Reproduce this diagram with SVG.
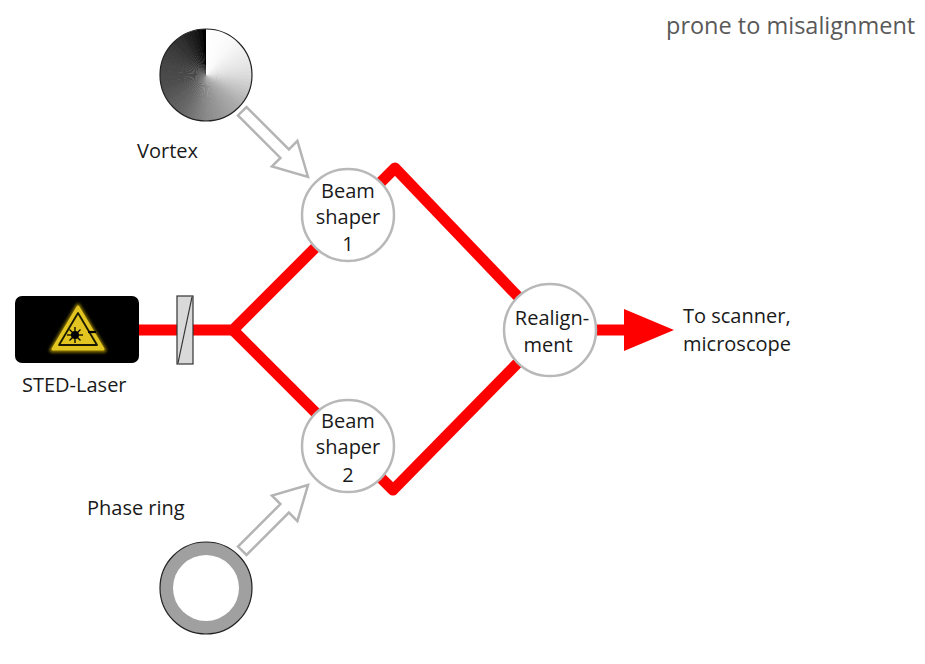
<svg xmlns="http://www.w3.org/2000/svg" width="925" height="664" viewBox="0 0 925 664">
  <style>
    .lbl { font-family: "Open Sans", "Noto Sans", sans-serif; font-size: 20px; fill: #1a1a1a; }
    .mid { text-anchor: middle; }
    .note { font-family: "Open Sans", "Noto Sans", sans-serif; font-size: 23.5px; fill: #595959; }
    .node { fill: #ffffff; stroke: #b8b8b8; stroke-width: 2.5; }
    .beam { fill: none; stroke: #ff0000; stroke-width: 11; stroke-linejoin: round; }
    .hollow { fill: #ffffff; stroke: #b4b4b4; stroke-width: 2.5; stroke-linejoin: miter; }
  </style>
  <defs>
    <polygon id="hollowArrow" points="0,0 -33,-18 -33,-6 -93,-6 -93,6 -33,6 -33,18"/>
    <!-- 6-degree sector, drawn every 5 degrees so neighbours overlap -->
    <path id="sector" d="M0,0 L0,-48 A48,48 0 0 1 5.02,-47.74 Z"/>
    <filter id="glow" x="-20%" y="-20%" width="140%" height="140%">
      <feGaussianBlur stdDeviation="1.5"/>
    </filter>
    <filter id="soften" filterUnits="userSpaceOnUse" x="-55" y="-55" width="110" height="110">
      <feGaussianBlur stdDeviation="0.6"/>
    </filter>
    <clipPath id="plateClip">
      <circle cx="206" cy="75" r="46"/>
    </clipPath>
  </defs>

  <!-- beam paths -->
  <g id="connectors">
    <path class="beam" d="M139,330 L233,330 L395,168 L550,330"/>
    <path class="beam" d="M233,330 L393,490 L550,330"/>
    <path class="beam" d="M550,330 L628,330"/>
    <polygon points="624,309 674,330 624,351" fill="#ff0000"/>
    <use href="#hollowArrow" class="hollow" transform="translate(308,177) rotate(45)"/>
    <use href="#hollowArrow" class="hollow" transform="translate(308,485) rotate(-45)"/>
  </g>

  <!-- vortex phase plate: grey ramp of sectors, clockwise from 12 o'clock -->
  <g id="vortex">
    <g clip-path="url(#plateClip)">
      <g filter="url(#soften)" transform="translate(206,75)">
        <use href="#sector" fill="#ffffff" transform="rotate(0)"/>
        <use href="#sector" fill="#fefefe" transform="rotate(5)"/>
        <use href="#sector" fill="#fdfdfd" transform="rotate(10)"/>
        <use href="#sector" fill="#fdfdfd" transform="rotate(15)"/>
        <use href="#sector" fill="#fcfcfc" transform="rotate(20)"/>
        <use href="#sector" fill="#fbfbfb" transform="rotate(25)"/>
        <use href="#sector" fill="#fafafa" transform="rotate(30)"/>
        <use href="#sector" fill="#f9f9f9" transform="rotate(35)"/>
        <use href="#sector" fill="#f7f7f7" transform="rotate(40)"/>
        <use href="#sector" fill="#f4f4f4" transform="rotate(45)"/>
        <use href="#sector" fill="#f2f2f2" transform="rotate(50)"/>
        <use href="#sector" fill="#efefef" transform="rotate(55)"/>
        <use href="#sector" fill="#ededed" transform="rotate(60)"/>
        <use href="#sector" fill="#eaeaea" transform="rotate(65)"/>
        <use href="#sector" fill="#e8e8e8" transform="rotate(70)"/>
        <use href="#sector" fill="#e5e5e5" transform="rotate(75)"/>
        <use href="#sector" fill="#e2e2e2" transform="rotate(80)"/>
        <use href="#sector" fill="#dedede" transform="rotate(85)"/>
        <use href="#sector" fill="#dadada" transform="rotate(90)"/>
        <use href="#sector" fill="#d4d4d4" transform="rotate(95)"/>
        <use href="#sector" fill="#cfcfcf" transform="rotate(100)"/>
        <use href="#sector" fill="#c9c9c9" transform="rotate(105)"/>
        <use href="#sector" fill="#c4c4c4" transform="rotate(110)"/>
        <use href="#sector" fill="#bebebe" transform="rotate(115)"/>
        <use href="#sector" fill="#b8b8b8" transform="rotate(120)"/>
        <use href="#sector" fill="#b3b3b3" transform="rotate(125)"/>
        <use href="#sector" fill="#adadad" transform="rotate(130)"/>
        <use href="#sector" fill="#a8a8a8" transform="rotate(135)"/>
        <use href="#sector" fill="#a5a5a5" transform="rotate(140)"/>
        <use href="#sector" fill="#a1a1a1" transform="rotate(145)"/>
        <use href="#sector" fill="#9e9e9e" transform="rotate(150)"/>
        <use href="#sector" fill="#9a9a9a" transform="rotate(155)"/>
        <use href="#sector" fill="#969696" transform="rotate(160)"/>
        <use href="#sector" fill="#939393" transform="rotate(165)"/>
        <use href="#sector" fill="#8f8f8f" transform="rotate(170)"/>
        <use href="#sector" fill="#8c8c8c" transform="rotate(175)"/>
        <use href="#sector" fill="#878787" transform="rotate(180)"/>
        <use href="#sector" fill="#828282" transform="rotate(185)"/>
        <use href="#sector" fill="#7d7d7d" transform="rotate(190)"/>
        <use href="#sector" fill="#777777" transform="rotate(195)"/>
        <use href="#sector" fill="#727272" transform="rotate(200)"/>
        <use href="#sector" fill="#6d6d6d" transform="rotate(205)"/>
        <use href="#sector" fill="#686868" transform="rotate(210)"/>
        <use href="#sector" fill="#656565" transform="rotate(215)"/>
        <use href="#sector" fill="#626262" transform="rotate(220)"/>
        <use href="#sector" fill="#5f5f5f" transform="rotate(225)"/>
        <use href="#sector" fill="#5c5c5c" transform="rotate(230)"/>
        <use href="#sector" fill="#595959" transform="rotate(235)"/>
        <use href="#sector" fill="#565656" transform="rotate(240)"/>
        <use href="#sector" fill="#535353" transform="rotate(245)"/>
        <use href="#sector" fill="#505050" transform="rotate(250)"/>
        <use href="#sector" fill="#4e4e4e" transform="rotate(255)"/>
        <use href="#sector" fill="#4c4c4c" transform="rotate(260)"/>
        <use href="#sector" fill="#4b4b4b" transform="rotate(265)"/>
        <use href="#sector" fill="#494949" transform="rotate(270)"/>
        <use href="#sector" fill="#474747" transform="rotate(275)"/>
        <use href="#sector" fill="#464646" transform="rotate(280)"/>
        <use href="#sector" fill="#444444" transform="rotate(285)"/>
        <use href="#sector" fill="#424242" transform="rotate(290)"/>
        <use href="#sector" fill="#404040" transform="rotate(295)"/>
        <use href="#sector" fill="#3e3e3e" transform="rotate(300)"/>
        <use href="#sector" fill="#3a3a3a" transform="rotate(305)"/>
        <use href="#sector" fill="#373737" transform="rotate(310)"/>
        <use href="#sector" fill="#333333" transform="rotate(315)"/>
        <use href="#sector" fill="#303030" transform="rotate(320)"/>
        <use href="#sector" fill="#2d2d2d" transform="rotate(325)"/>
        <use href="#sector" fill="#282828" transform="rotate(330)"/>
        <use href="#sector" fill="#222222" transform="rotate(335)"/>
        <use href="#sector" fill="#1c1c1c" transform="rotate(340)"/>
        <use href="#sector" fill="#161616" transform="rotate(345)"/>
        <use href="#sector" fill="#0e0e0e" transform="rotate(350)"/>
        <path d="M0,0 L-4.18,-47.82 A48,48 0 0 1 0,-48 Z" fill="#050505"/>
      </g>
    </g>
    <circle cx="206" cy="75" r="46" fill="none" stroke="#222" stroke-width="1.2"/>
    <text class="lbl" x="137" y="158">Vortex</text>
  </g>

  <!-- phase ring plate -->
  <g id="phase-ring">
    <circle cx="206" cy="588" r="46" fill="#a0a0a0" stroke="#222" stroke-width="1.2"/>
    <circle cx="206" cy="588" r="33" fill="#ffffff"/>
    <text class="lbl" x="87" y="515">Phase ring</text>
  </g>

  <!-- laser source with warning sign -->
  <g id="sted-laser">
    <rect x="15" y="296" width="124" height="67" rx="7" fill="#000"/>
    <polygon points="78,306 52,350 104,350" fill="#8a7600" stroke="#8a7600" stroke-width="5" stroke-linejoin="round" filter="url(#glow)"/>
    <polygon points="78,307 53,349 103,349" fill="#e2c520" stroke="#e2c520" stroke-width="3" stroke-linejoin="round"/>
    <polygon points="78,313 59,345 97,345" fill="none" stroke="#1a1a00" stroke-width="1.8" stroke-linejoin="round"/>
    <g stroke="#000" stroke-width="1.3">
      <line x1="67" y1="335" x2="83" y2="335"/>
      <line x1="75" y1="327" x2="75" y2="343"/>
      <line x1="69.5" y1="329.5" x2="80.5" y2="340.5"/>
      <line x1="69.5" y1="340.5" x2="80.5" y2="329.5"/>
    </g>
    <circle cx="75" cy="335" r="4" fill="#000"/>
    <line x1="88" y1="332" x2="96" y2="332" stroke="#000" stroke-width="2.2"/>
    <text class="lbl" x="22" y="392">STED-Laser</text>
  </g>

  <!-- beam splitter -->
  <g id="splitter">
    <rect x="177" y="296" width="16" height="68" fill="#d9d9d9" stroke="#333" stroke-width="1.2"/>
    <line x1="178" y1="363" x2="192" y2="297" stroke="#333" stroke-width="1.2"/>
  </g>

  <g id="beam-shaper-1">
    <circle class="node" cx="348" cy="215" r="46"/>
    <text class="lbl mid" x="348" y="198">Beam</text>
    <text class="lbl mid" x="348" y="224">shaper</text>
    <text class="lbl mid" x="348" y="251">1</text>
  </g>

  <g id="beam-shaper-2">
    <circle class="node" cx="348" cy="446" r="46"/>
    <text class="lbl mid" x="348" y="428">Beam</text>
    <text class="lbl mid" x="348" y="454">shaper</text>
    <text class="lbl mid" x="348" y="482">2</text>
  </g>

  <g id="realignment">
    <circle class="node" cx="550" cy="330" r="46"/>
    <text class="lbl mid" x="552" y="325">Realign-</text>
    <text class="lbl mid" x="548" y="352">ment</text>
  </g>

  <g id="output">
    <text class="lbl" x="683" y="323">To scanner,</text>
    <text class="lbl" x="683" y="351">microscope</text>
  </g>

  <text class="note" x="666" y="34">prone to misalignment</text>
</svg>
